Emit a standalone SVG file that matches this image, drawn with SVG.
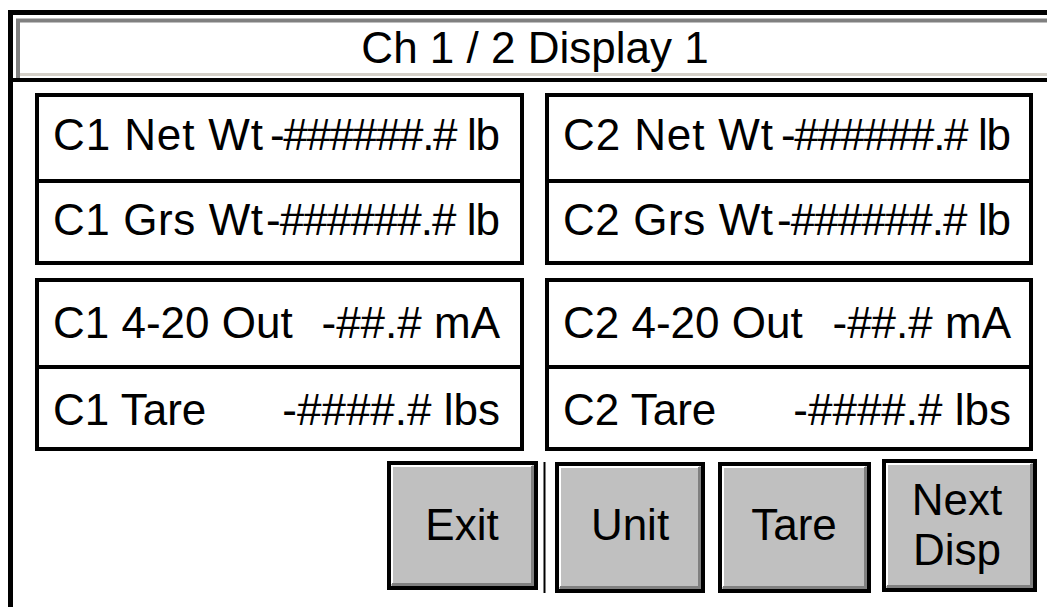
<svg xmlns="http://www.w3.org/2000/svg" width="1047" height="607" viewBox="0 0 1047 607">
<style>
.t{font-family:"Liberation Sans",Arial,sans-serif;font-size:44px;fill:#000}
.box{fill:#fff;stroke:#000;stroke-width:4}
.div{stroke:#000;stroke-width:4}
.btn{fill:#c0c0c0;stroke:#000;stroke-width:4}
.hi{fill:none;stroke:#fff;stroke-width:2}
.sh{fill:none;stroke:#808080;stroke-width:3}
</style>
<rect x="0" y="0" width="1047" height="607" fill="#fff"/>
<g id="frame">
<path d="M10.5 607 V12.5 H1047" fill="none" stroke="#000" stroke-width="5"/>
<path d="M18 78 V20.5 H1047" fill="none" stroke="#808080" stroke-width="4"/>
<path d="M20 74.5 H1047" fill="none" stroke="#d4d0c8" stroke-width="3"/>
<path d="M13 80 H1047" fill="none" stroke="#000" stroke-width="4"/>
</g>
<g id="title">
<text class="t" x="535" y="63" font-size="43" text-anchor="middle">Ch 1 / 2 Display 1</text>
</g>
<g id="c1-weights">
<rect class="box" x="37" y="95" width="485" height="168"/>
<line class="div" x1="37" y1="181" x2="522" y2="181"/>
<text class="t" x="53" y="150" textLength="210">C1 Net Wt</text>
<text class="t" x="500" y="150" text-anchor="end" textLength="230">-######.# lb</text>
<text class="t" x="53" y="235" textLength="210">C1 Grs Wt</text>
<text class="t" x="500" y="235" text-anchor="end" textLength="234">-######.# lb</text>
</g>
<g id="c2-weights">
<rect class="box" x="547" y="95" width="484" height="168"/>
<line class="div" x1="547" y1="181" x2="1031" y2="181"/>
<text class="t" x="563" y="150" textLength="210">C2 Net Wt</text>
<text class="t" x="1011" y="150" text-anchor="end" textLength="230">-######.# lb</text>
<text class="t" x="563" y="235" textLength="210">C2 Grs Wt</text>
<text class="t" x="1011" y="235" text-anchor="end" textLength="234">-######.# lb</text>
</g>
<g id="c1-output">
<rect class="box" x="37" y="280" width="485" height="169"/>
<line class="div" x1="37" y1="367" x2="522" y2="367"/>
<text class="t" x="53" y="338">C1 4-20 Out</text>
<text class="t" x="500" y="338" text-anchor="end">-##.# mA</text>
<text class="t" x="53" y="425">C1 Tare</text>
<text class="t" x="500" y="425" text-anchor="end">-####.# lbs</text>
</g>
<g id="c2-output">
<rect class="box" x="547" y="280" width="484" height="169"/>
<line class="div" x1="547" y1="367" x2="1031" y2="367"/>
<text class="t" x="563" y="338">C2 4-20 Out</text>
<text class="t" x="1011" y="338" text-anchor="end">-##.# mA</text>
<text class="t" x="563" y="425">C2 Tare</text>
<text class="t" x="1011" y="425" text-anchor="end">-####.# lbs</text>
</g>
<g id="connectors">
<line x1="544.5" y1="462" x2="544.5" y2="593" stroke="#000" stroke-width="2"/>
</g>
<g id="btn-exit">
<rect class="btn" x="389" y="463" width="147" height="125"/>
<path class="hi" d="M392 584 V466 H532"/>
<path class="sh" d="M392 584.5 H532.5 V466"/>
<text class="t" x="462" y="540" text-anchor="middle">Exit</text>
</g>
<g id="btn-unit">
<rect class="btn" x="557" y="464" width="146" height="127"/>
<path class="hi" d="M560 587 V467 H699"/>
<path class="sh" d="M560 587.5 H699.5 V467"/>
<text class="t" x="630" y="540" text-anchor="middle">Unit</text>
</g>
<g id="btn-tare">
<rect class="btn" x="720" y="464" width="149" height="127"/>
<path class="hi" d="M723 587 V467 H865"/>
<path class="sh" d="M723 587.5 H865.5 V467"/>
<text class="t" x="794" y="540" text-anchor="middle">Tare</text>
</g>
<g id="btn-next">
<rect class="btn" x="884" y="461" width="151" height="129"/>
<path class="hi" d="M887 586 V464 H1031"/>
<path class="sh" d="M887 586.5 H1031.5 V464"/>
<text class="t" x="957" y="515" text-anchor="middle">Next</text>
<text class="t" x="957" y="565" text-anchor="middle">Disp</text>
</g>
</svg>
